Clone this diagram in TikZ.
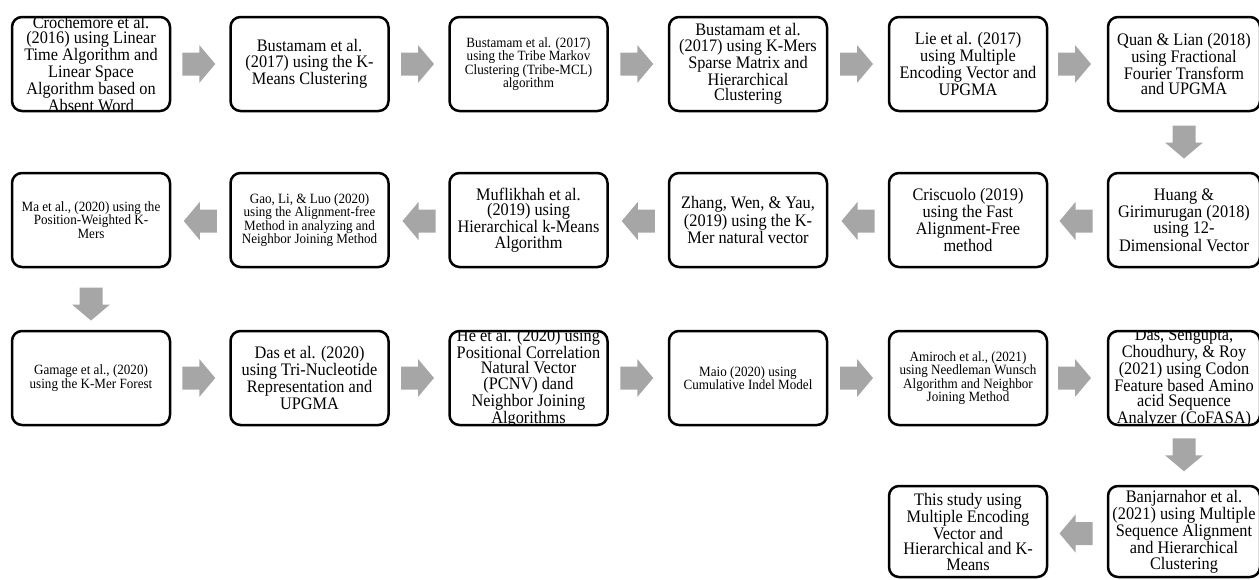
\documentclass[tikz,border=0pt]{standalone}
\usepackage{fontspec}
\setmainfont{Liberation Serif}
\usetikzlibrary{calc}
\definecolor{arrowgray}{HTML}{A6A6A6}
\tikzset{
  boxframe/.style={draw=black, line width=2.5pt, rounded corners=10pt},
  boxholder/.style={inner sep=0pt, outer sep=0pt},
  bigtext/.style={align=center, inner sep=0pt, yscale=1.08, transform shape,
    font=\fontsize{16.3}{14.25}\selectfont},
  smalltext/.style={align=center, inner sep=0pt, yscale=1.08, transform shape,
    font=\fontsize{13.1}{12.3}\selectfont},
  blockarrow/.style={fill=arrowgray, draw=none},
}
% #1 name, #2 x, #3 y, #4 width, #5 height, #6 text style, #7 text
\newcommand\flowbox[7]{%
  \node[boxholder, minimum width=#4pt, minimum height=#5pt] (#1) at (#2,#3) {};
  \begin{scope}
    \clip[rounded corners=10pt] (#1.south west) rectangle (#1.north east);
    \node[#6] (#1t) at (#1.center) {#7};
  \end{scope}
  \draw[boxframe] (#1.south west) rectangle (#1.north east);
}
% #1 from node, #2 to node, #3 rotation, #4 extra shift
\newcommand\blockarrowbetween[4]{%
  \fill[blockarrow, shift={($(#1)!0.5!(#2)+(#4)$)}, rotate=#3]
    (-16.5,-11.5) -- (0.5,-11.5) -- (0.5,-19) -- (16.5,0) -- (0.5,19)
    -- (0.5,11.5) -- (-16.5,11.5) -- cycle;
}
\begin{document}
\begin{tikzpicture}[x=1pt, y=-1pt]
\useasboundingbox (0,0) rectangle (1259,579);
% Row 1
\flowbox{b11}{91}{64}{158}{94}{bigtext}{Crochemore et al.\\(2016) using Linear\\Time Algorithm and\\Linear Space\\Algorithm based on\\Absent Word}
\flowbox{b12}{309.5}{64}{158}{94}{bigtext}{Bustamam et al.\\(2017) using the K-\\Means Clustering}
\flowbox{b13}{528.5}{64}{158}{94}{smalltext}{Bustamam et al. (2017)\\using the Tribe Markov\\Clustering (Tribe-MCL)\\algorithm}
\flowbox{b14}{748}{64}{158}{94}{bigtext}{Bustamam et al.\\(2017) using K-Mers\\Sparse Matrix and\\Hierarchical\\Clustering}
\flowbox{b15}{968}{64}{158}{94}{bigtext}{Lie et al. (2017)\\using Multiple\\Encoding Vector and\\UPGMA}
\flowbox{b16}{1184}{64}{152}{94}{bigtext}{Quan \& Lian (2018)\\using Fractional\\Fourier Transform\\and UPGMA}
% Row 2
\flowbox{b26}{1184}{220}{152}{94}{bigtext}{Huang \&\\Girimurugan (2018)\\using 12-\\Dimensional Vector}
\flowbox{b25}{968}{220}{158}{94}{bigtext}{Criscuolo (2019)\\using the Fast\\Alignment-Free\\method}
\flowbox{b24}{748}{220}{158}{94}{bigtext}{Zhang, Wen, \& Yau,\\(2019) using the K-\\Mer natural vector}
\flowbox{b23}{528.5}{220}{158}{94}{bigtext}{Muflikhah et al.\\(2019) using\\Hierarchical k-Means\\Algorithm}
\flowbox{b22}{309.5}{220}{158}{94}{smalltext}{Gao, Li, \& Luo (2020)\\using the Alignment-free\\Method in analyzing and\\Neighbor Joining Method}
\flowbox{b21}{91}{220}{158}{94}{smalltext}{Ma et al., (2020) using the\\Position-Weighted K-\\Mers}
% Row 3
\flowbox{b31}{91}{378}{158}{94}{smalltext}{Gamage et al., (2020)\\using the K-Mer Forest}
\flowbox{b32}{309.5}{378}{158}{94}{bigtext}{Das et al. (2020)\\using Tri-Nucleotide\\Representation and\\UPGMA}
\flowbox{b33}{528.5}{378}{158}{94}{bigtext}{He et al. (2020) using\\Positional Correlation\\Natural Vector\\(PCNV) dand\\Neighbor Joining\\Algorithms}
\flowbox{b34}{748}{378}{158}{94}{smalltext}{Maio (2020) using\\Cumulative Indel Model}
\flowbox{b35}{968}{378}{158}{94}{smalltext}{Amiroch et al., (2021)\\using Needleman Wunsch\\Algorithm and Neighbor\\Joining Method}
\flowbox{b36}{1184}{378}{152}{94}{bigtext}{Das, Sengupta,\\Choudhury, \& Roy\\(2021) using Codon\\Feature based Amino\\acid Sequence\\Analyzer (CoFASA)}
% Row 4
\flowbox{b46}{1184}{531.5}{152}{91}{bigtext}{Banjarnahor et al.\\(2021) using Multiple\\Sequence Alignment\\and Hierarchical\\Clustering}
\flowbox{b45}{968}{531.5}{158}{91}{bigtext}{This study using\\Multiple Encoding\\Vector and\\Hierarchical and K-\\Means}
% Arrows
\blockarrowbetween{b11}{b12}{0}{-1.5,0}
\blockarrowbetween{b12}{b13}{0}{-1.5,0}
\blockarrowbetween{b13}{b14}{0}{-1.5,0}
\blockarrowbetween{b14}{b15}{0}{-1.5,0}
\blockarrowbetween{b15}{b16}{0}{-1.5,0}
\blockarrowbetween{b16}{b26}{-90}{0,0}
\blockarrowbetween{b26}{b25}{180}{0,1}
\blockarrowbetween{b25}{b24}{180}{0,1}
\blockarrowbetween{b24}{b23}{180}{0,1}
\blockarrowbetween{b23}{b22}{180}{0,1}
\blockarrowbetween{b22}{b21}{180}{0,1}
\blockarrowbetween{b21}{b31}{-90}{0,5}
\blockarrowbetween{b31}{b32}{0}{-1.5,0}
\blockarrowbetween{b32}{b33}{0}{-1.5,0}
\blockarrowbetween{b33}{b34}{0}{-1.5,0}
\blockarrowbetween{b34}{b35}{0}{-1.5,0}
\blockarrowbetween{b35}{b36}{0}{-1.5,0}
\blockarrowbetween{b36}{b46}{-90}{0,0}
\blockarrowbetween{b46}{b45}{180}{0,2}
\end{tikzpicture}
\end{document}
